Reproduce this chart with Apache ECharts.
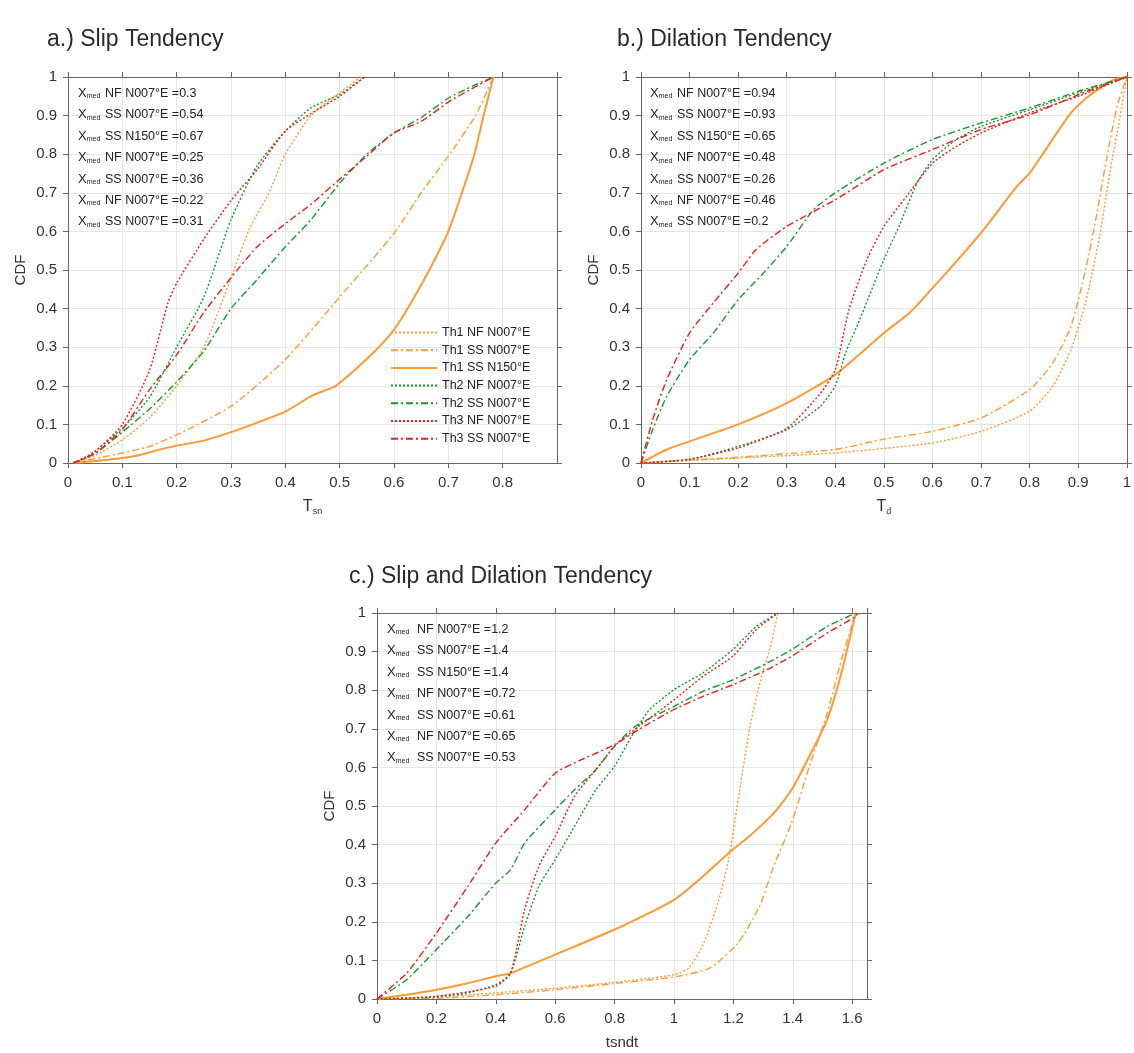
<!DOCTYPE html>
<html><head><meta charset="utf-8">
<script src="https://cdn.jsdelivr.net/npm/echarts@6/dist/echarts.min.js"></script>
<style>html,body{margin:0;padding:0;background:#fff}#c{width:1134px;height:1053px}</style>
</head><body><div id="c"></div>
<script>
// ---------- DATA ----------
const seriesNames = ['Th1 NF N007°E','Th1 SS N007°E','Th1 SS N150°E','Th2 NF N007°E','Th2 SS N007°E','Th3 NF N007°E','Th3 SS N007°E'];
const medLabels = ['NF N007°E','SS N007°E','SS N150°E','NF N007°E','SS N007°E','NF N007°E','SS N007°E'];
const aMed = ['0.3','0.54','0.67','0.25','0.36','0.22','0.31'];
const bMed = ['0.94','0.93','0.65','0.48','0.26','0.46','0.2'];
const cMed = ['1.2','1.4','1.4','0.72','0.61','0.65','0.53'];
const panelTitles = ['a.) Slip Tendency','b.) Dilation Tendency','c.) Slip and Dilation Tendency'];

// Panel a: Slip tendency  [Tsn, CDF]
const aTh1NF  = [[0.01,0],[0.05,0.02],[0.1,0.06],[0.15,0.117],[0.2,0.2],[0.25,0.3],[0.3,0.48],[0.335,0.61],[0.37,0.7],[0.4,0.8],[0.447,0.9],[0.5,0.96],[0.54,1]];
const aTh1SS  = [[0.01,0],[0.1,0.026],[0.15,0.043],[0.2,0.073],[0.3,0.147],[0.4,0.268],[0.5,0.43],[0.6,0.595],[0.65,0.7],[0.7,0.795],[0.75,0.9],[0.783,1]];
const aTh1SS150 = [[0.01,0],[0.05,0.005],[0.1,0.013],[0.13,0.02],[0.15,0.028],[0.2,0.045],[0.25,0.058],[0.3,0.08],[0.34,0.1],[0.4,0.133],[0.45,0.175],[0.493,0.2],[0.535,0.25],[0.572,0.3],[0.6,0.345],[0.625,0.4],[0.665,0.5],[0.7,0.6],[0.725,0.7],[0.748,0.8],[0.765,0.9],[0.783,1]];
const aTh2NF  = [[0.01,0],[0.04,0.02],[0.1,0.09],[0.15,0.17],[0.2,0.3],[0.25,0.43],[0.3,0.63],[0.348,0.77],[0.4,0.86],[0.447,0.92],[0.5,0.955],[0.546,1]];
const aTh2SS  = [[0.01,0],[0.05,0.025],[0.1,0.08],[0.15,0.14],[0.2,0.21],[0.25,0.29],[0.3,0.4],[0.348,0.475],[0.4,0.56],[0.447,0.63],[0.5,0.725],[0.55,0.8],[0.6,0.855],[0.65,0.895],[0.7,0.945],[0.75,0.98],[0.783,1]];
const aTh3NF  = [[0.01,0],[0.05,0.03],[0.1,0.1],[0.15,0.24],[0.184,0.415],[0.2,0.466],[0.25,0.58],[0.3,0.68],[0.348,0.76],[0.4,0.86],[0.447,0.905],[0.5,0.95],[0.546,1]];
const aTh3SS  = [[0.01,0],[0.05,0.025],[0.1,0.087],[0.15,0.19],[0.2,0.28],[0.25,0.39],[0.3,0.48],[0.348,0.56],[0.4,0.62],[0.447,0.67],[0.5,0.735],[0.55,0.795],[0.6,0.855],[0.65,0.885],[0.7,0.935],[0.75,0.975],[0.783,1]];

// Panel b: Dilation tendency [Td, CDF]
const bTh1NF  = [[0,0],[0.2,0.013],[0.4,0.026],[0.6,0.052],[0.7,0.082],[0.8,0.134],[0.848,0.2],[0.885,0.294],[0.915,0.415],[0.944,0.587],[0.966,0.76],[0.985,0.89],[1,1]];
const bTh1SS  = [[0,0],[0.2,0.015],[0.4,0.035],[0.5,0.062],[0.6,0.082],[0.7,0.117],[0.8,0.19],[0.848,0.26],[0.885,0.354],[0.915,0.5],[0.936,0.63],[0.958,0.786],[0.98,0.924],[1,1]];
const bTh1SS150 = [[0,0],[0.053,0.035],[0.1,0.056],[0.2,0.1],[0.3,0.155],[0.4,0.229],[0.5,0.337],[0.553,0.389],[0.6,0.453],[0.649,0.522],[0.7,0.596],[0.774,0.717],[0.8,0.751],[0.833,0.812],[0.885,0.907],[0.921,0.95],[0.973,0.993],[1,1]];
const bTh2NF  = [[0,0],[0.1,0.009],[0.2,0.043],[0.3,0.086],[0.369,0.147],[0.4,0.2],[0.421,0.285],[0.45,0.371],[0.5,0.527],[0.531,0.613],[0.568,0.725],[0.6,0.786],[0.649,0.838],[0.7,0.872],[0.8,0.915],[0.9,0.959],[1,1]];
const bTh2SS  = [[0,0],[0.024,0.086],[0.053,0.173],[0.1,0.268],[0.149,0.337],[0.2,0.423],[0.252,0.492],[0.3,0.561],[0.355,0.656],[0.4,0.7],[0.5,0.777],[0.6,0.838],[0.7,0.881],[0.8,0.92],[0.9,0.963],[1,1]];
const bTh3NF  = [[0,0],[0.1,0.01],[0.2,0.039],[0.3,0.09],[0.369,0.18],[0.4,0.242],[0.428,0.397],[0.465,0.527],[0.5,0.613],[0.546,0.69],[0.6,0.777],[0.649,0.82],[0.7,0.855],[0.8,0.907],[0.9,0.95],[1,1]];
const bTh3SS  = [[0,0],[0.024,0.112],[0.053,0.216],[0.1,0.337],[0.149,0.415],[0.2,0.492],[0.237,0.553],[0.3,0.613],[0.4,0.682],[0.5,0.76],[0.6,0.812],[0.7,0.864],[0.8,0.902],[0.9,0.954],[1,1]];

// Panel c: Slip and dilation tendency [tsndt, CDF]
const cTh1NF  = [[0,0],[0.2,0.005],[0.4,0.016],[0.6,0.028],[0.8,0.043],[1.0,0.063],[1.05,0.08],[1.1,0.145],[1.148,0.249],[1.184,0.361],[1.22,0.534],[1.256,0.706],[1.292,0.827],[1.328,0.922],[1.35,1]];
const cTh1SS  = [[0,0],[0.2,0.002],[0.4,0.011],[0.6,0.024],[0.8,0.04],[1.0,0.057],[1.12,0.08],[1.216,0.145],[1.288,0.24],[1.336,0.344],[1.396,0.456],[1.456,0.603],[1.516,0.741],[1.564,0.879],[1.612,1]];
const cTh1SS150 = [[0,0],[0.1,0.011],[0.2,0.024],[0.306,0.041],[0.4,0.059],[0.45,0.067],[0.6,0.115],[0.8,0.18],[1.0,0.257],[1.098,0.318],[1.198,0.387],[1.253,0.421],[1.337,0.482],[1.396,0.542],[1.456,0.629],[1.516,0.724],[1.564,0.845],[1.612,1]];
const cTh2NF  = [[0,0],[0.2,0.005],[0.306,0.016],[0.4,0.037],[0.45,0.067],[0.497,0.188],[0.545,0.292],[0.6,0.361],[0.665,0.447],[0.737,0.542],[0.8,0.603],[0.857,0.68],[0.917,0.749],[1.0,0.801],[1.098,0.845],[1.198,0.905],[1.277,0.965],[1.35,1]];
const cTh2SS  = [[0,0],[0.1,0.05],[0.2,0.128],[0.306,0.214],[0.4,0.3],[0.45,0.335],[0.497,0.404],[0.6,0.49],[0.665,0.542],[0.737,0.594],[0.8,0.655],[0.869,0.706],[1.0,0.758],[1.098,0.797],[1.198,0.827],[1.313,0.87],[1.396,0.905],[1.516,0.965],[1.612,1]];
const cTh3NF  = [[0,0],[0.2,0.007],[0.4,0.033],[0.45,0.067],[0.497,0.231],[0.545,0.344],[0.6,0.421],[0.665,0.525],[0.737,0.594],[0.8,0.655],[0.881,0.706],[1.0,0.775],[1.098,0.836],[1.198,0.888],[1.277,0.957],[1.35,1]];
const cTh3SS  = [[0,0],[0.1,0.067],[0.2,0.171],[0.306,0.292],[0.4,0.404],[0.497,0.49],[0.6,0.585],[0.689,0.62],[0.8,0.659],[0.881,0.698],[1.0,0.75],[1.098,0.784],[1.198,0.814],[1.313,0.853],[1.396,0.888],[1.516,0.948],[1.612,0.991],[1.618,1]];

const xRanges = [[0,0.9,0.1],[0,1,0.1],[0,1.65,0.2]];
const yRange = [0,1,0.1];

// ---------- STYLE / LAYOUT ----------
const FONT = '"Liberation Sans", Arial, sans-serif';
const ORANGE = '#ff9933', GREEN = '#13992a', RED = '#f01a1a';
const DOT = [2,2], DASHDOT = [7,3,2,3];
const styles = [
  {color:ORANGE, type:DOT, width:1.4},
  {color:ORANGE, type:DASHDOT, width:1.4},
  {color:ORANGE, type:'solid', width:2},
  {color:GREEN, type:DOT, width:1.4},
  {color:GREEN, type:DASHDOT, width:1.4},
  {color:RED, type:DOT, width:1.4},
  {color:RED, type:DASHDOT, width:1.4}
];
const panelData = [
  [aTh1NF,aTh1SS,aTh1SS150,aTh2NF,aTh2SS,aTh3NF,aTh3SS],
  [bTh1NF,bTh1SS,bTh1SS150,bTh2NF,bTh2SS,bTh3NF,bTh3SS],
  [cTh1NF,cTh1SS,cTh1SS150,cTh2NF,cTh2SS,cTh3NF,cTh3SS]
];
const medians = [aMed,bMed,cMed];
const grids = [
  {left:68, top:77, width:489, height:386},
  {left:641, top:77, width:489, height:386},
  {left:377, top:613, width:490, height:386}
];
const xNames = ['{t|T}{s|sn}','{t|T}{s|d}','{n|tsndt}'];
const titlePos = [[47,41],[617,41],[349,578]];
const annoPos = [[78,105,95],[650,677,95],[387,417,631]];
const AXC = '#666';
const TXT = '#333';

const xAxes = [], yAxes = [], series = [], graphics = [];
for (let i=0;i<3;i++){
  const [mn,mx,iv] = xRanges[i];
  xAxes.push({gridIndex:i,type:'value',min:mn,max:mx,interval:iv,position:'bottom',
    axisLine:{show:true,onZero:false,lineStyle:{color:AXC,width:1}},
    axisTick:{show:true,inside:false,length:5,lineStyle:{color:AXC}},
    axisLabel:{color:TXT,fontSize:15,fontFamily:FONT,margin:12,showMinLabel:true,showMaxLabel:(i===1)},
    splitLine:{show:true,lineStyle:{color:'#e6e6e6',width:1}},
    name:xNames[i],nameLocation:'middle',nameGap:i===2?36:34,
    nameTextStyle:{fontFamily:FONT,color:TXT,rich:{t:{fontSize:16,fontFamily:FONT,color:TXT},s:{fontSize:9,fontFamily:FONT,color:TXT,padding:[10,0,0,0]},n:{fontSize:15,fontFamily:FONT,color:TXT}}}
  });
  yAxes.push({gridIndex:i,type:'value',min:yRange[0],max:yRange[1],interval:yRange[2],position:'left',
    axisLine:{show:true,onZero:false,lineStyle:{color:AXC,width:1}},
    axisTick:{show:true,inside:false,length:5,lineStyle:{color:AXC}},
    axisLabel:{color:TXT,fontSize:15,fontFamily:FONT,margin:11},
    splitLine:{show:true,lineStyle:{color:'#e6e6e6',width:1}},
    name:'CDF',nameLocation:'middle',nameGap:40,
    nameTextStyle:{fontSize:15,fontFamily:FONT,color:TXT}
  });
  for (let k=0;k<7;k++){
    series.push({name:seriesNames[k],type:'line',xAxisIndex:i,yAxisIndex:i,data:panelData[i][k],
      showSymbol:false,symbol:'none',smooth:0.2,
      lineStyle:{color:styles[k].color,type:styles[k].type,width:styles[k].width},
      itemStyle:{color:styles[k].color},z:2+k});
  }
  graphics.push({type:'text',z:100,left:titlePos[i][0],top:titlePos[i][1]-13,
    style:{text:panelTitles[i],fontSize:23,fontFamily:FONT,fill:'#2a2a2a'}});
  for (let k=0;k<7;k++){
    const y = annoPos[i][2] + k*21.4;
    graphics.push({type:'text',z:100,left:annoPos[i][0],top:y-8,
      style:{text:'{c|Χ}{m|med}',rich:{c:{fontSize:13,fontFamily:FONT,fill:'#222'},m:{fontSize:7,fontFamily:FONT,fill:'#222',padding:[6,0,0,0]}}}});
    graphics.push({type:'text',z:100,left:annoPos[i][1],top:y-8,
      style:{text:medLabels[k]+' ='+medians[i][k],fontSize:12.5,fontFamily:FONT,fill:'#222'}});
  }
}
// top and right box axes
for (let i=0;i<3;i++){
  const [mn,mx,iv] = xRanges[i];
  xAxes.push({gridIndex:i,type:'value',min:mn,max:mx,interval:iv,position:'top',
    axisLine:{show:true,onZero:false,lineStyle:{color:AXC,width:1}},
    axisTick:{show:true,inside:false,length:5,lineStyle:{color:AXC}},
    axisLabel:{show:false},splitLine:{show:false}});
  yAxes.push({gridIndex:i,type:'value',min:yRange[0],max:yRange[1],interval:yRange[2],position:'right',
    axisLine:{show:true,onZero:false,lineStyle:{color:AXC,width:1}},
    axisTick:{show:true,inside:false,length:5,lineStyle:{color:AXC}},
    axisLabel:{show:false},splitLine:{show:false}});
}

const chart = echarts.init(document.getElementById('c'),null,{renderer:'canvas'});
chart.setOption({
  animation:false,
  backgroundColor:'#fff',
  grid:grids,
  xAxis:xAxes,
  yAxis:yAxes,
  legend:{data:seriesNames,orient:'vertical',left:390,top:326,padding:0,itemWidth:46,itemHeight:14,itemGap:4.7,
    itemStyle:{opacity:0},
    textStyle:{fontSize:12.5,fontFamily:FONT,color:'#222'}},
  graphic:graphics,
  series:series
});
</script></body></html>
